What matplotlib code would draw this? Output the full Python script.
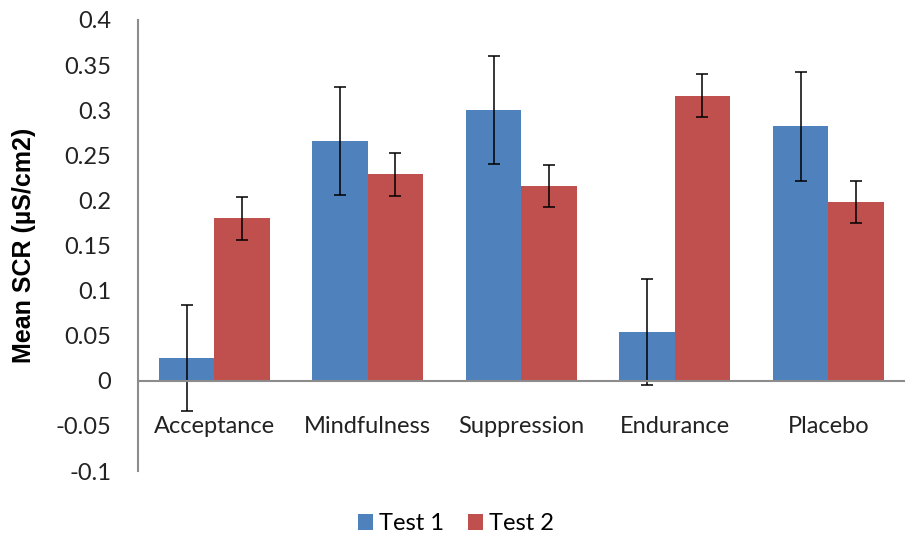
import matplotlib
matplotlib.use("Agg")
import matplotlib.pyplot as plt
import numpy as np

categories = ["Acceptance", "Mindfulness", "Suppression", "Endurance", "Placebo"]
test1 = [0.025, 0.266, 0.300, 0.054, 0.282]
test1_err = [0.059, 0.060, 0.060, 0.059, 0.060]
test2 = [0.180, 0.229, 0.216, 0.316, 0.198]
test2_err = [0.024, 0.024, 0.023, 0.024, 0.023]
yticks = [-0.1, -0.05, 0, 0.05, 0.1, 0.15, 0.2, 0.25, 0.3, 0.35, 0.4]
ytick_labels = ["-0.1", "-0.05", "0", "0.05", "0.1", "0.15", "0.2", "0.25", "0.3", "0.35", "0.4"]

plt.rcParams['font.family'] = ['Lato', 'DejaVu Sans']

fig = plt.figure(figsize=(9.22, 5.37), dpi=100)
ax = fig.add_axes([137.5/922, (537-471)/537, (905-137.5)/922, (471-20)/537])

x = np.arange(len(categories)) + 0.5
w = 0.36
blue = "#4F81BD"
red = "#C0504D"
ekw = dict(ecolor="black", elinewidth=1.1, capsize=4.5, capthick=1.1)
ax.bar(x - w/2, test1, w, color=blue, label="Test 1", yerr=test1_err, error_kw=ekw, zorder=2)
ax.bar(x + w/2, test2, w, color=red, label="Test 2", yerr=test2_err, error_kw=ekw, zorder=2)

ax.set_xlim(0, len(categories))
ax.set_ylim(-0.1, 0.4)
ax.set_yticks(yticks)
ax.set_yticklabels(ytick_labels, fontsize=17, color="#222222")
ax.tick_params(axis='y', length=0, pad=19)
ax.set_xticks([])
for xi, c in zip(x, categories):
    ax.text(xi, -0.051, c, ha="center", va="center", fontsize=17, color="#222222")

ax.axhline(0, color="#8c8c8c", linewidth=1.5, zorder=3)
for s in ["top", "right", "bottom"]:
    ax.spines[s].set_visible(False)
ax.spines["left"].set_color("#8c8c8c")
ax.spines["left"].set_linewidth(1.5)

fig.text(24/922, 1 - 245/537, "Mean SCR (µS/cm2)", rotation=90, fontsize=18, fontweight="bold",
         family=["Liberation Sans", "DejaVu Sans"], ha="center", va="center")

leg = fig.legend(loc="center", bbox_to_anchor=(456/922, 1 - 524/537), ncol=2, frameon=False,
                 fontsize=17, handlelength=0.65, handleheight=0.65, handletextpad=0.25, columnspacing=1.0)

fig.savefig("out.png", dpi=100)
